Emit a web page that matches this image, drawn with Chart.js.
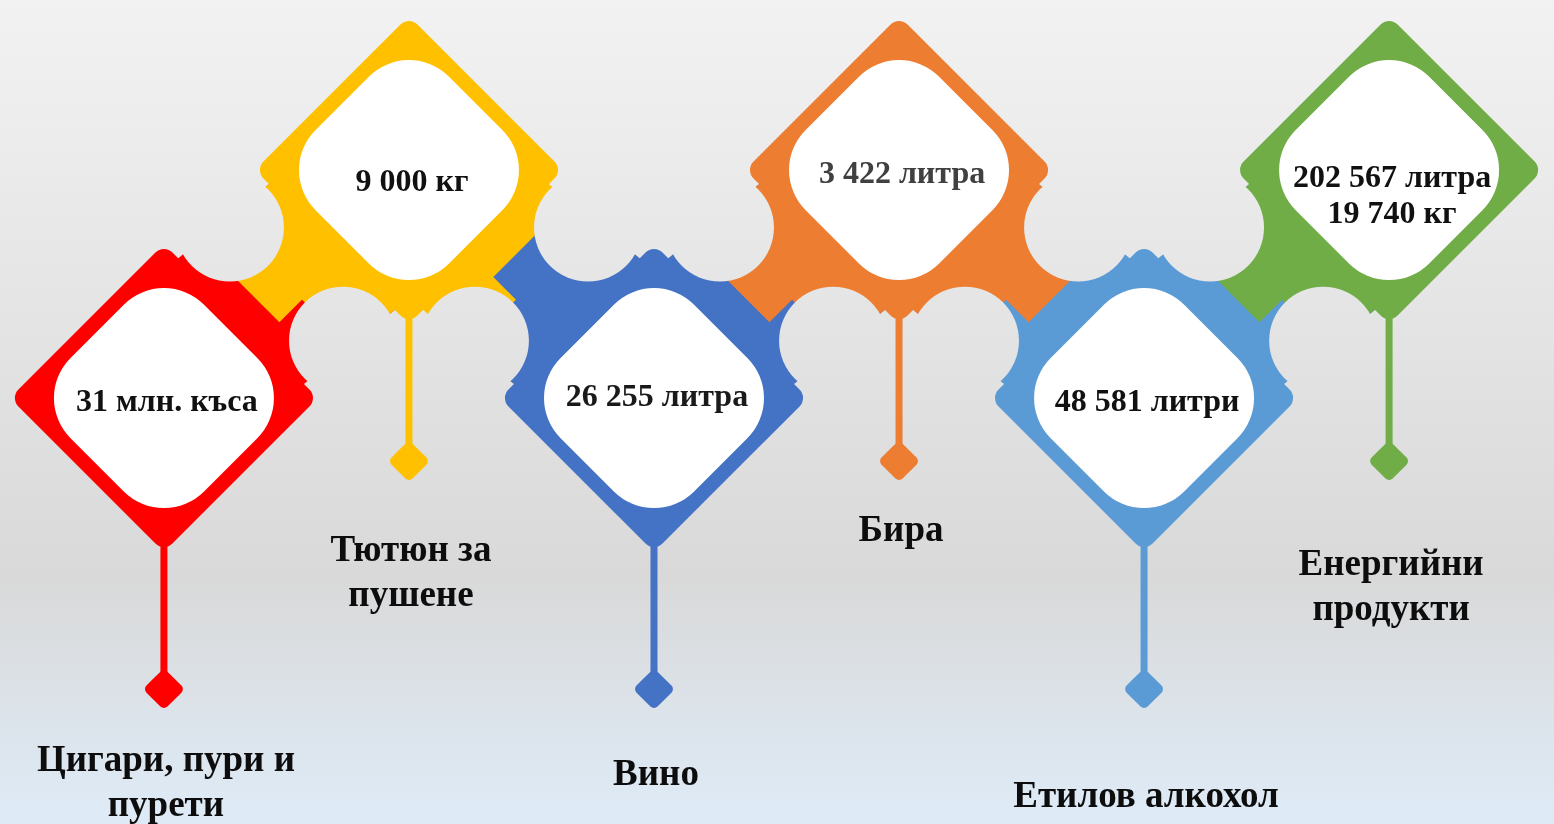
<!DOCTYPE html>
<html lang="bg">
<head>
<meta charset="utf-8">
<title>Акцизни стоки</title>
<script src="https://cdn.jsdelivr.net/npm/chart.js@4.4.1/dist/chart.umd.min.js"></script>
<style>
  html, body { margin: 0; padding: 0; overflow: hidden; }
  #wrap { width: 1554px; height: 824px; position: relative; }
</style>
</head>
<body>
<div id="wrap"><canvas id="chart"></canvas></div>
<script>
// Data
const categories = [['Цигари, пури и', 'пурети'], ['Тютюн за', 'пушене'], ['Вино'], ['Бира'], ['Етилов алкохол'], ['Енергийни', 'продукти']];
const amounts = [['31 млн. къса'], ['9 000 кг'], ['26 255 литра'], ['3 422 литра'], ['48 581 литри'], ['202 567 литра', '19 740 кг']];
const levels = [0, 1, 0, 1, 0, 1];   // 1 = upper row, 0 = lower row

// Styles
const colors = ['#ff0000', '#ffc000', '#4472c4', '#ed7d31', '#5b9bd5', '#70ad47'];
const valueColors = ['#111111', '#111111', '#1a1a1a', '#404040', '#111111', '#111111'];
const tabOnTop = [1, 2, 3, 3, 5];    // which piece sits on top at each joint
const valueNudge = [0, 8, -5, 0, 0, 22];
const labelNudge = [-12, 6, 2, -14, 24, 20];

const R = 154;          // half diagonal of a piece
const CORNER = 12;
const HOLE_OFFSET = 80;
const HOLE_R = 54;
const STRIP_INSET = 20;
const TAB_CUT = -22;
const TAB_REACH = 32;
const STEM_LEN = 291;
const STEM_W = 7;
const END_R = 21;
const LABEL_GAP = 84;
const LABEL_LINE = 45;
const VALUE_LINE = 36;
const S2 = Math.SQRT1_2;

function diamondPath(ctx, x, y, h, r) {
    ctx.beginPath();
    ctx.moveTo(x - h / 2, y - h / 2);
    ctx.arcTo(x, y - h, x + h, y, r);
    ctx.arcTo(x + h, y, x, y + h, r);
    ctx.arcTo(x, y + h, x - h, y, r);
    ctx.arcTo(x - h, y, x, y - h, r);
    ctx.closePath();
}

function rectAB(ctx, a0, a1, b0, b1) {
    ctx.fillRect(Math.min(a0, a1), Math.min(b0, b1), Math.abs(a1 - a0), Math.abs(b1 - b0));
}

// joint between piece i and i+1, returns the two hole centres
function drawJunction(ctx, pts, i) {
    const P = pts[i], Q = pts[i + 1];
    const leftUp = levels[i] > levels[i + 1];
    const U = leftUp ? P : Q, D = leftUp ? Q : P;
    const iU = leftUp ? i : i + 1, iD = leftUp ? i + 1 : i;
    const mx = (U.x + D.x) / 2, my = (U.y + D.y) / 2;
    // a runs along the strip towards its upper end, b across it towards the upper piece
    const ax = leftUp ? S2 : -S2, ay = -S2;
    const bx = leftUp ? -S2 : S2, by = -S2;
    const loc = (x, y) => [(x - mx) * ax + (y - my) * ay, (x - mx) * bx + (y - my) * by];

    // strip between the facing edges, in local (a, b) units
    const uS = loc(leftUp ? U.x + R : U.x - R, U.y);
    const uB = loc(U.x, U.y + R);
    const dS = loc(leftUp ? D.x - R : D.x + R, D.y);
    const dT = loc(D.x, D.y - R);
    const wU = uS[1] + 1.5, wD = dS[1] - 1.5;

    const owner = tabOnTop[i];
    const other = owner === iU ? iD : iU;
    const s = owner === iU ? 1 : -1;

    ctx.save();
    ctx.translate(mx, my);
    ctx.transform(ax, ay, bx, by, 0, 0);
    ctx.beginPath();
    ctx.moveTo(uS[0] - STRIP_INSET, wU);
    ctx.lineTo(uB[0] + STRIP_INSET, wU);
    ctx.lineTo(dS[0] + STRIP_INSET, wD);
    ctx.lineTo(dT[0] - STRIP_INSET, wD);
    ctx.closePath();
    ctx.fillStyle = colors[other];
    ctx.fill();
    ctx.clip();
    ctx.fillStyle = colors[owner];
    const edge = s > 0 ? wU + 2 : wD - 2;
    rectAB(ctx, TAB_CUT, 400, -s * TAB_REACH, edge);
    rectAB(ctx, -400, TAB_CUT + 1, 0, edge);
    ctx.restore();

    return [
        { x: mx + HOLE_OFFSET * ax, y: my + HOLE_OFFSET * ay },
        { x: mx - HOLE_OFFSET * ax, y: my - HOLE_OFFSET * ay }
    ];
}

const piecesPlugin = {
    id: 'pieces',
    beforeDatasetsDraw(chart) {
        const ctx = chart.ctx;
        const pts = chart.getDatasetMeta(0).data;
        const bg = ctx.createLinearGradient(0, 0, 0, chart.height);
        bg.addColorStop(0, '#f2f2f2');
        bg.addColorStop(0.7, '#d9d9d9');
        bg.addColorStop(1, '#deebf7');

        ctx.save();
        ctx.fillStyle = bg;
        ctx.fillRect(0, 0, chart.width, chart.height);

        // joints first, then the pieces over them so no seams show on the edges
        const holes = [];
        for (let i = 0; i < pts.length - 1; i++) holes.push(...drawJunction(ctx, pts, i));

        pts.forEach((p, i) => {
            ctx.fillStyle = colors[i];
            diamondPath(ctx, p.x, p.y, R, CORNER);
            ctx.fill();
        });

        ctx.fillStyle = bg;
        holes.forEach(h => {
            ctx.beginPath();
            ctx.arc(h.x, h.y, HOLE_R, 0, Math.PI * 2);
            ctx.fill();
        });

        // stems and end markers
        pts.forEach((p, i) => {
            ctx.fillStyle = colors[i];
            ctx.fillRect(p.x - STEM_W / 2, p.y + R - 8, STEM_W, STEM_LEN - R + 8);
            diamondPath(ctx, p.x, p.y + STEM_LEN, END_R, 5);
            ctx.fill();
        });
        ctx.restore();
    },
    afterDatasetsDraw(chart) {
        const ctx = chart.ctx;
        const pts = chart.getDatasetMeta(0).data;
        ctx.save();
        ctx.textAlign = 'center';
        ctx.textBaseline = 'middle';
        pts.forEach((p, i) => {
            ctx.font = 'bold 32px "Liberation Serif", "Times New Roman", serif';
            ctx.fillStyle = valueColors[i];
            const n = amounts[i].length;
            amounts[i].forEach((t, k) => {
                ctx.fillText(t, p.x + 3, p.y + 5 + valueNudge[i] + (k - (n - 1) / 2) * VALUE_LINE);
            });
            ctx.font = 'bold 37px "Liberation Serif", "Times New Roman", serif';
            ctx.fillStyle = '#0d0d0d';
            categories[i].forEach((t, k) => {
                ctx.fillText(t, p.x + 2, p.y + STEM_LEN + LABEL_GAP + labelNudge[i] + k * LABEL_LINE);
            });
        });
        ctx.restore();
    }
};

new Chart(document.getElementById('chart'), {
    type: 'scatter',
    data: {
        datasets: [{
            data: levels.map((v, i) => ({ x: i, y: v })),
            pointStyle: 'rectRounded',
            pointRotation: 45,
            pointRadius: 110,
            backgroundColor: '#ffffff',
            borderWidth: 0,
            clip: false
        }]
    },
    options: {
        responsive: true,
        maintainAspectRatio: false,
        animation: false,
        events: [],
        layout: { padding: 0, autoPadding: false },
        plugins: { legend: { display: false }, tooltip: { enabled: false } },
        scales: {
            x: { type: 'linear', display: false, bounds: 'data', min: -0.669, max: 5.673 },
            y: { type: 'linear', display: false, bounds: 'data', min: -1.868, max: 1.746 }
        }
    },
    plugins: [piecesPlugin]
});
</script>
</body>
</html>
